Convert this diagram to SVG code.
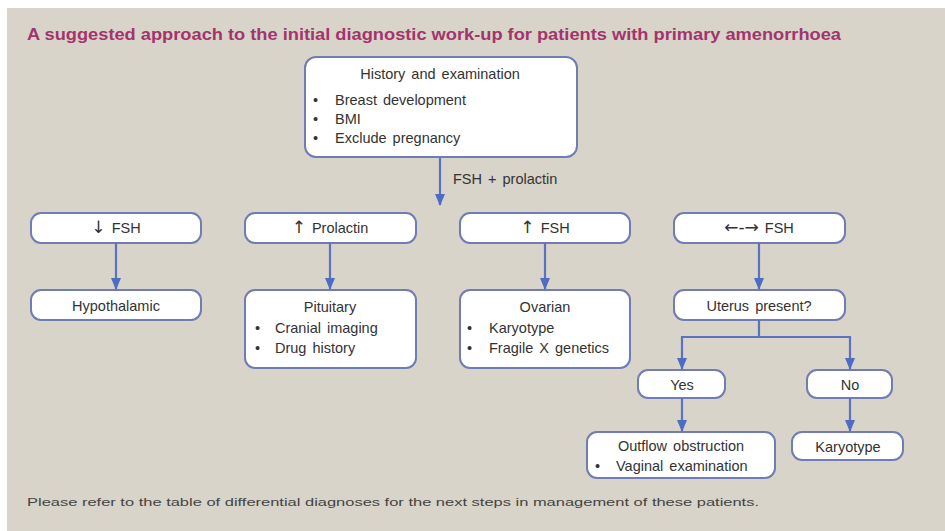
<svg xmlns="http://www.w3.org/2000/svg" width="945" height="531" viewBox="0 0 945 531">
<defs>
<marker id="ah" viewBox="0 0 12 10" refX="11" refY="5" markerWidth="5.6" markerHeight="4.6" orient="auto" markerUnits="strokeWidth">
<path d="M0,0 L12,5 L0,10 z" fill="#4f6cc4"/>
</marker>
<style>
.box{fill:#ffffff;stroke:#6f7cb6;stroke-width:2}
.t{font-family:"Liberation Sans",Arial,sans-serif;font-size:14.5px;fill:#333333;word-spacing:2px}
.c{text-anchor:middle}
.sym{font-family:"DejaVu Sans",sans-serif;font-size:17px;fill:#333333}
.ln{fill:none;stroke:#5a72c0;stroke-width:2.2}
.arr{fill:none;stroke:#5a72c0;stroke-width:2.2;marker-end:url(#ah)}
</style>
</defs>
<rect x="0" y="0" width="945" height="531" fill="#ffffff"/>
<rect x="7" y="8" width="938" height="523" fill="#d8d4c9"/>
<text x="27" y="40" font-family="Liberation Sans Narrow,Liberation Sans,Arial,sans-serif" font-weight="bold" font-size="16" fill="#a3346e" textLength="814" lengthAdjust="spacingAndGlyphs">A suggested approach to the initial diagnostic work-up for patients with primary amenorrhoea</text>

<g id="history">
<rect class="box" x="305" y="57" width="272" height="100" rx="11"/>
<text class="t c" x="440" y="79">History and examination</text>
<text class="t" x="313" y="105">•</text><text class="t" x="335" y="105">Breast development</text>
<text class="t" x="313" y="124">•</text><text class="t" x="335" y="124">BMI</text>
<text class="t" x="313" y="143">•</text><text class="t" x="335" y="143">Exclude pregnancy</text>
</g>

<g id="lowfsh">
<rect class="box" x="31" y="213" width="170" height="30" rx="10"/>
<text class="t c" x="116" y="233"><tspan class="sym">↓</tspan> FSH</text>
</g>
<g id="hiprl">
<rect class="box" x="245" y="213" width="171" height="30" rx="10"/>
<text class="t c" x="330" y="233"><tspan class="sym">↑</tspan> Prolactin</text>
</g>
<g id="hifsh">
<rect class="box" x="460" y="213" width="170" height="30" rx="10"/>
<text class="t c" x="545" y="233"><tspan class="sym">↑</tspan> FSH</text>
</g>
<g id="nfsh">
<rect class="box" x="674" y="213" width="171" height="30" rx="10"/>
<text class="t c" x="759" y="233"><tspan class="sym" font-size="13">←-→</tspan> FSH</text>
</g>

<g id="hypothalamic">
<rect class="box" x="31" y="290" width="170" height="30" rx="10"/>
<text class="t c" x="116" y="311">Hypothalamic</text>
</g>
<g id="pituitary">
<rect class="box" x="245" y="290" width="171" height="78" rx="10"/>
<text class="t c" x="330" y="312">Pituitary</text>
<text class="t" x="255" y="333">•</text><text class="t" x="275" y="333">Cranial imaging</text>
<text class="t" x="255" y="353">•</text><text class="t" x="275" y="353">Drug history</text>
</g>
<g id="ovarian">
<rect class="box" x="460" y="290" width="170" height="78" rx="10"/>
<text class="t c" x="545" y="312">Ovarian</text>
<text class="t" x="467" y="333">•</text><text class="t" x="489" y="333">Karyotype</text>
<text class="t" x="467" y="353">•</text><text class="t" x="489" y="353">Fragile X genetics</text>
</g>
<g id="uterus">
<rect class="box" x="674" y="290" width="171" height="30" rx="10"/>
<text class="t c" x="759" y="311">Uterus present?</text>
</g>

<g id="yes">
<rect class="box" x="638" y="370" width="87" height="28" rx="10"/>
<text class="t c" x="682" y="390">Yes</text>
</g>
<g id="no">
<rect class="box" x="807" y="370" width="85" height="28" rx="10"/>
<text class="t c" x="850" y="390">No</text>
</g>
<g id="outflow">
<rect class="box" x="587" y="432" width="188" height="46" rx="10"/>
<text class="t c" x="681" y="451">Outflow obstruction</text>
<text class="t" x="595" y="471">•</text><text class="t" x="616" y="471">Vaginal examination</text>
</g>
<g id="karyotype">
<rect class="box" x="792" y="432" width="111" height="28" rx="10"/>
<text class="t c" x="848" y="452">Karyotype</text>
</g>

<g id="connectors">
<line class="arr" x1="440" y1="158" x2="440" y2="205"/>
<text class="t" x="453" y="184">FSH + prolactin</text>
<line class="arr" x1="116" y1="243" x2="116" y2="289"/>
<line class="arr" x1="330" y1="243" x2="330" y2="289"/>
<line class="arr" x1="545" y1="243" x2="545" y2="289"/>
<line class="arr" x1="759" y1="243" x2="759" y2="289"/>
<polyline class="ln" points="759,320 759,337"/>
<polyline class="arr" points="682,337 682,369"/>
<polyline class="arr" points="850,337 850,369"/>
<line class="ln" x1="681" y1="337" x2="851" y2="337"/>
<line class="arr" x1="682" y1="398" x2="682" y2="431"/>
<line class="arr" x1="850" y1="398" x2="850" y2="431"/>
</g>

<text x="27" y="506" font-family="Liberation Sans,Arial,sans-serif" font-size="11.5" fill="#444444" textLength="732" lengthAdjust="spacingAndGlyphs">Please refer to the table of differential diagnoses for the next steps in management of these patients.</text>
</svg>
